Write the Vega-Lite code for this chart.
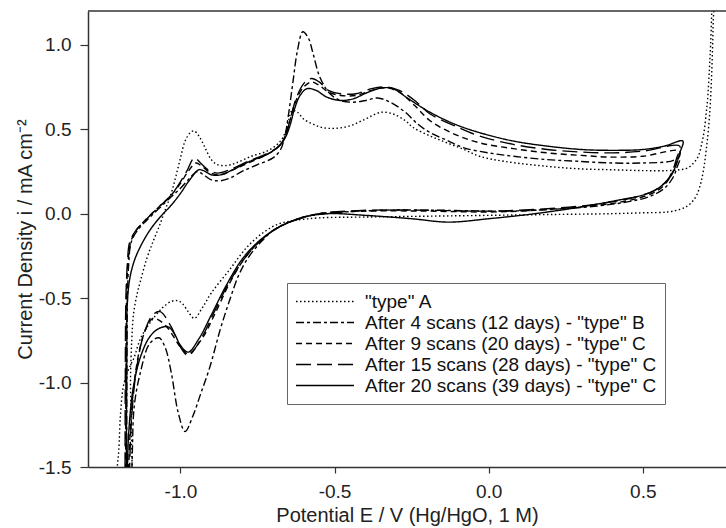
{
"$schema": "https://vega.github.io/schema/vega-lite/v6.json",
"width": 638, "height": 456,
"autosize": {"type": "none"},
"padding": {"left": 88, "top": 11, "right": 0, "bottom": 61},
"background": "white",
"config": {
  "view": {"stroke": null},
  "font": "Liberation Sans",
  "axis": {"domainColor": "#333", "domainWidth": 1.5, "tickColor": "#333", "tickWidth": 1.2, "labelColor": "#222", "titleColor": "#222", "labelFontSize": 19, "titleFontSize": 20, "titleFontWeight": "normal", "labelFont": "Liberation Sans", "titleFont": "Liberation Sans", "grid": false, "labelOverlap": false}
},
"datasets": {
  "names": [
    {"k": "A", "name": "\"type\" A"},
    {"k": "B", "name": "After 4 scans (12 days) - \"type\" B"},
    {"k": "C9", "name": "After 9 scans (20 days) - \"type\" C"},
    {"k": "C15", "name": "After 15 scans (28 days) - \"type\" C"},
    {"k": "C20", "name": "After 20 scans (39 days) - \"type\" C"}
  ],
  "cv": [
    {"s":"A","E":-1.155,"I":-1.75},{"s":"A","E":-1.157,"I":-1.5},{"s":"A","E":-1.16,"I":-1.2},{"s":"A","E":-1.162,"I":-0.98},{"s":"A","E":-1.158,"I":-0.75},{"s":"A","E":-1.152,"I":-0.59},{"s":"A","E":-1.14,"I":-0.47},{"s":"A","E":-1.13,"I":-0.4},{"s":"A","E":-1.11,"I":-0.27},{"s":"A","E":-1.09,"I":-0.17},{"s":"A","E":-1.07,"I":-0.08},{"s":"A","E":-1.05,"I":0.02},{"s":"A","E":-1.03,"I":0.12},{"s":"A","E":-1.015,"I":0.22},{"s":"A","E":-1.0,"I":0.33},{"s":"A","E":-0.985,"I":0.43},{"s":"A","E":-0.968,"I":0.48},{"s":"A","E":-0.956,"I":0.49},{"s":"A","E":-0.94,"I":0.46},{"s":"A","E":-0.92,"I":0.39},{"s":"A","E":-0.9,"I":0.32},{"s":"A","E":-0.88,"I":0.29},{"s":"A","E":-0.85,"I":0.285},{"s":"A","E":-0.82,"I":0.3},{"s":"A","E":-0.77,"I":0.34},{"s":"A","E":-0.72,"I":0.37},{"s":"A","E":-0.68,"I":0.42},{"s":"A","E":-0.66,"I":0.48},{"s":"A","E":-0.648,"I":0.56},{"s":"A","E":-0.638,"I":0.61},{"s":"A","E":-0.62,"I":0.6},{"s":"A","E":-0.6,"I":0.56},{"s":"A","E":-0.57,"I":0.53},{"s":"A","E":-0.54,"I":0.51},{"s":"A","E":-0.5,"I":0.505},{"s":"A","E":-0.45,"I":0.52},{"s":"A","E":-0.4,"I":0.56},{"s":"A","E":-0.35,"I":0.6},{"s":"A","E":-0.31,"I":0.59},{"s":"A","E":-0.27,"I":0.55},{"s":"A","E":-0.245,"I":0.51},{"s":"A","E":-0.19,"I":0.46},{"s":"A","E":-0.136,"I":0.42},{"s":"A","E":-0.08,"I":0.38},{"s":"A","E":-0.03,"I":0.34},{"s":"A","E":0.05,"I":0.31},{"s":"A","E":0.19,"I":0.28},{"s":"A","E":0.3,"I":0.265},{"s":"A","E":0.4,"I":0.26},{"s":"A","E":0.5,"I":0.255},{"s":"A","E":0.58,"I":0.255},{"s":"A","E":0.62,"I":0.26},{"s":"A","E":0.645,"I":0.27},{"s":"A","E":0.665,"I":0.3},{"s":"A","E":0.68,"I":0.34},{"s":"A","E":0.692,"I":0.42},{"s":"A","E":0.7,"I":0.5},{"s":"A","E":0.706,"I":0.6},{"s":"A","E":0.71,"I":0.67},{"s":"A","E":0.716,"I":0.85},{"s":"A","E":0.72,"I":1.0},{"s":"A","E":0.724,"I":1.2},{"s":"A","E":0.727,"I":1.35},
    {"s":"A","E":0.73,"I":1.35},{"s":"A","E":0.728,"I":1.1},{"s":"A","E":0.724,"I":0.85},{"s":"A","E":0.719,"I":0.65},{"s":"A","E":0.713,"I":0.5},{"s":"A","E":0.706,"I":0.38},{"s":"A","E":0.698,"I":0.27},{"s":"A","E":0.688,"I":0.18},{"s":"A","E":0.675,"I":0.11},{"s":"A","E":0.66,"I":0.07},{"s":"A","E":0.64,"I":0.04},{"s":"A","E":0.62,"I":0.025},{"s":"A","E":0.58,"I":0.01},{"s":"A","E":0.5,"I":0.005},{"s":"A","E":0.4,"I":0.0},{"s":"A","E":0.2,"I":-0.005},{"s":"A","E":0.0,"I":-0.01},{"s":"A","E":-0.2,"I":-0.015},{"s":"A","E":-0.4,"I":-0.02},{"s":"A","E":-0.55,"I":-0.025},{"s":"A","E":-0.63,"I":-0.04},{"s":"A","E":-0.68,"I":-0.06},{"s":"A","E":-0.73,"I":-0.11},{"s":"A","E":-0.785,"I":-0.2},{"s":"A","E":-0.84,"I":-0.33},{"s":"A","E":-0.9,"I":-0.47},{"s":"A","E":-0.93,"I":-0.56},{"s":"A","E":-0.955,"I":-0.62},{"s":"A","E":-0.975,"I":-0.58},{"s":"A","E":-0.995,"I":-0.53},{"s":"A","E":-1.01,"I":-0.515},{"s":"A","E":-1.03,"I":-0.52},{"s":"A","E":-1.06,"I":-0.56},{"s":"A","E":-1.1,"I":-0.65},{"s":"A","E":-1.13,"I":-0.74},{"s":"A","E":-1.15,"I":-0.85},{"s":"A","E":-1.17,"I":-0.93},{"s":"A","E":-1.185,"I":-1.02},{"s":"A","E":-1.195,"I":-1.2},{"s":"A","E":-1.2,"I":-1.4},{"s":"A","E":-1.205,"I":-1.5},{"s":"A","E":-1.21,"I":-1.75},

    {"s":"B","E":-1.175,"I":-1.75},{"s":"B","E":-1.174,"I":-1.0},{"s":"B","E":-1.172,"I":-0.5},{"s":"B","E":-1.168,"I":-0.3},{"s":"B","E":-1.16,"I":-0.17},{"s":"B","E":-1.14,"I":-0.1},{"s":"B","E":-1.11,"I":-0.04},{"s":"B","E":-1.07,"I":0.03},{"s":"B","E":-1.03,"I":0.1},{"s":"B","E":-1.0,"I":0.15},{"s":"B","E":-0.97,"I":0.21},{"s":"B","E":-0.945,"I":0.25},{"s":"B","E":-0.925,"I":0.23},{"s":"B","E":-0.9,"I":0.2},{"s":"B","E":-0.87,"I":0.195},{"s":"B","E":-0.84,"I":0.21},{"s":"B","E":-0.8,"I":0.25},{"s":"B","E":-0.75,"I":0.29},{"s":"B","E":-0.7,"I":0.33},{"s":"B","E":-0.675,"I":0.38},{"s":"B","E":-0.66,"I":0.47},{"s":"B","E":-0.65,"I":0.58},{"s":"B","E":-0.635,"I":0.78},{"s":"B","E":-0.62,"I":0.97},{"s":"B","E":-0.603,"I":1.077},{"s":"B","E":-0.585,"I":1.04},{"s":"B","E":-0.57,"I":0.95},{"s":"B","E":-0.548,"I":0.81},{"s":"B","E":-0.515,"I":0.71},{"s":"B","E":-0.48,"I":0.67},{"s":"B","E":-0.44,"I":0.66},{"s":"B","E":-0.4,"I":0.67},{"s":"B","E":-0.36,"I":0.685},{"s":"B","E":-0.32,"I":0.66},{"s":"B","E":-0.27,"I":0.6},{"s":"B","E":-0.23,"I":0.53},{"s":"B","E":-0.19,"I":0.48},{"s":"B","E":-0.13,"I":0.43},{"s":"B","E":-0.08,"I":0.39},{"s":"B","E":0.0,"I":0.36},{"s":"B","E":0.08,"I":0.34},{"s":"B","E":0.19,"I":0.32},{"s":"B","E":0.29,"I":0.31},{"s":"B","E":0.4,"I":0.3},{"s":"B","E":0.5,"I":0.3},{"s":"B","E":0.59,"I":0.31},{"s":"B","E":0.62,"I":0.33},
    {"s":"B","E":0.61,"I":0.27},{"s":"B","E":0.6,"I":0.22},{"s":"B","E":0.57,"I":0.15},{"s":"B","E":0.52,"I":0.1},{"s":"B","E":0.45,"I":0.07},{"s":"B","E":0.35,"I":0.045},{"s":"B","E":0.2,"I":0.025},{"s":"B","E":0.05,"I":0.015},{"s":"B","E":-0.15,"I":0.02},{"s":"B","E":-0.35,"I":0.02},{"s":"B","E":-0.5,"I":0.005},{"s":"B","E":-0.6,"I":-0.02},{"s":"B","E":-0.66,"I":-0.06},{"s":"B","E":-0.7,"I":-0.1},{"s":"B","E":-0.74,"I":-0.17},{"s":"B","E":-0.78,"I":-0.26},{"s":"B","E":-0.81,"I":-0.36},{"s":"B","E":-0.84,"I":-0.51},{"s":"B","E":-0.87,"I":-0.68},{"s":"B","E":-0.905,"I":-0.91},{"s":"B","E":-0.935,"I":-1.07},{"s":"B","E":-0.96,"I":-1.2},{"s":"B","E":-0.985,"I":-1.29},{"s":"B","E":-1.007,"I":-1.18},{"s":"B","E":-1.03,"I":-0.94},{"s":"B","E":-1.05,"I":-0.79},{"s":"B","E":-1.07,"I":-0.735},{"s":"B","E":-1.1,"I":-0.77},{"s":"B","E":-1.13,"I":-0.94},{"s":"B","E":-1.15,"I":-1.14},{"s":"B","E":-1.156,"I":-1.4},{"s":"B","E":-1.16,"I":-1.75},

    {"s":"C9","E":-1.178,"I":-1.75},{"s":"C9","E":-1.177,"I":-1.0},{"s":"C9","E":-1.175,"I":-0.5},{"s":"C9","E":-1.17,"I":-0.28},{"s":"C9","E":-1.16,"I":-0.16},{"s":"C9","E":-1.14,"I":-0.09},{"s":"C9","E":-1.11,"I":-0.03},{"s":"C9","E":-1.07,"I":0.04},{"s":"C9","E":-1.03,"I":0.11},{"s":"C9","E":-1.0,"I":0.18},{"s":"C9","E":-0.975,"I":0.25},{"s":"C9","E":-0.95,"I":0.3},{"s":"C9","E":-0.93,"I":0.28},{"s":"C9","E":-0.9,"I":0.24},{"s":"C9","E":-0.87,"I":0.23},{"s":"C9","E":-0.83,"I":0.26},{"s":"C9","E":-0.78,"I":0.3},{"s":"C9","E":-0.72,"I":0.35},{"s":"C9","E":-0.68,"I":0.4},{"s":"C9","E":-0.66,"I":0.46},{"s":"C9","E":-0.645,"I":0.55},{"s":"C9","E":-0.625,"I":0.67},{"s":"C9","E":-0.6,"I":0.75},{"s":"C9","E":-0.575,"I":0.78},{"s":"C9","E":-0.55,"I":0.76},{"s":"C9","E":-0.52,"I":0.72},{"s":"C9","E":-0.48,"I":0.7},{"s":"C9","E":-0.43,"I":0.7},{"s":"C9","E":-0.38,"I":0.73},{"s":"C9","E":-0.335,"I":0.745},{"s":"C9","E":-0.29,"I":0.72},{"s":"C9","E":-0.24,"I":0.64},{"s":"C9","E":-0.19,"I":0.55},{"s":"C9","E":-0.11,"I":0.47},{"s":"C9","E":-0.03,"I":0.42},{"s":"C9","E":0.08,"I":0.385},{"s":"C9","E":0.19,"I":0.36},{"s":"C9","E":0.3,"I":0.345},{"s":"C9","E":0.4,"I":0.335},{"s":"C9","E":0.5,"I":0.34},{"s":"C9","E":0.62,"I":0.37},
    {"s":"C9","E":0.61,"I":0.3},{"s":"C9","E":0.595,"I":0.24},{"s":"C9","E":0.57,"I":0.17},{"s":"C9","E":0.53,"I":0.12},{"s":"C9","E":0.47,"I":0.085},{"s":"C9","E":0.4,"I":0.06},{"s":"C9","E":0.3,"I":0.04},{"s":"C9","E":0.15,"I":0.02},{"s":"C9","E":0.0,"I":0.01},{"s":"C9","E":-0.2,"I":0.015},{"s":"C9","E":-0.4,"I":0.015},{"s":"C9","E":-0.55,"I":0.0},{"s":"C9","E":-0.63,"I":-0.04},{"s":"C9","E":-0.69,"I":-0.09},{"s":"C9","E":-0.74,"I":-0.16},{"s":"C9","E":-0.79,"I":-0.26},{"s":"C9","E":-0.84,"I":-0.41},{"s":"C9","E":-0.89,"I":-0.6},{"s":"C9","E":-0.93,"I":-0.74},{"s":"C9","E":-0.975,"I":-0.83},{"s":"C9","E":-1.0,"I":-0.79},{"s":"C9","E":-1.04,"I":-0.68},{"s":"C9","E":-1.07,"I":-0.63},{"s":"C9","E":-1.09,"I":-0.62},{"s":"C9","E":-1.12,"I":-0.72},{"s":"C9","E":-1.145,"I":-0.93},{"s":"C9","E":-1.16,"I":-1.2},{"s":"C9","E":-1.168,"I":-1.5},{"s":"C9","E":-1.172,"I":-1.75},

    {"s":"C15","E":-1.18,"I":-1.75},{"s":"C15","E":-1.179,"I":-1.0},{"s":"C15","E":-1.177,"I":-0.5},{"s":"C15","E":-1.172,"I":-0.29},{"s":"C15","E":-1.165,"I":-0.17},{"s":"C15","E":-1.145,"I":-0.1},{"s":"C15","E":-1.12,"I":-0.05},{"s":"C15","E":-1.076,"I":0.03},{"s":"C15","E":-1.04,"I":0.09},{"s":"C15","E":-1.01,"I":0.16},{"s":"C15","E":-0.98,"I":0.25},{"s":"C15","E":-0.955,"I":0.33},{"s":"C15","E":-0.935,"I":0.3},{"s":"C15","E":-0.91,"I":0.26},{"s":"C15","E":-0.88,"I":0.24},{"s":"C15","E":-0.84,"I":0.26},{"s":"C15","E":-0.78,"I":0.31},{"s":"C15","E":-0.72,"I":0.355},{"s":"C15","E":-0.68,"I":0.4},{"s":"C15","E":-0.66,"I":0.46},{"s":"C15","E":-0.645,"I":0.55},{"s":"C15","E":-0.625,"I":0.68},{"s":"C15","E":-0.6,"I":0.77},{"s":"C15","E":-0.575,"I":0.8},{"s":"C15","E":-0.55,"I":0.78},{"s":"C15","E":-0.52,"I":0.73},{"s":"C15","E":-0.48,"I":0.71},{"s":"C15","E":-0.43,"I":0.71},{"s":"C15","E":-0.38,"I":0.74},{"s":"C15","E":-0.33,"I":0.75},{"s":"C15","E":-0.29,"I":0.73},{"s":"C15","E":-0.24,"I":0.67},{"s":"C15","E":-0.19,"I":0.59},{"s":"C15","E":-0.11,"I":0.52},{"s":"C15","E":-0.03,"I":0.46},{"s":"C15","E":0.08,"I":0.41},{"s":"C15","E":0.19,"I":0.38},{"s":"C15","E":0.3,"I":0.365},{"s":"C15","E":0.4,"I":0.36},{"s":"C15","E":0.5,"I":0.37},{"s":"C15","E":0.62,"I":0.4},
    {"s":"C15","E":0.61,"I":0.33},{"s":"C15","E":0.6,"I":0.27},{"s":"C15","E":0.58,"I":0.2},{"s":"C15","E":0.54,"I":0.14},{"s":"C15","E":0.48,"I":0.1},{"s":"C15","E":0.4,"I":0.07},{"s":"C15","E":0.3,"I":0.045},{"s":"C15","E":0.15,"I":0.025},{"s":"C15","E":0.0,"I":0.015},{"s":"C15","E":-0.2,"I":0.02},{"s":"C15","E":-0.4,"I":0.02},{"s":"C15","E":-0.55,"I":0.0},{"s":"C15","E":-0.63,"I":-0.04},{"s":"C15","E":-0.69,"I":-0.09},{"s":"C15","E":-0.74,"I":-0.16},{"s":"C15","E":-0.79,"I":-0.26},{"s":"C15","E":-0.84,"I":-0.4},{"s":"C15","E":-0.89,"I":-0.58},{"s":"C15","E":-0.93,"I":-0.73},{"s":"C15","E":-0.975,"I":-0.84},{"s":"C15","E":-1.0,"I":-0.79},{"s":"C15","E":-1.03,"I":-0.67},{"s":"C15","E":-1.066,"I":-0.58},{"s":"C15","E":-1.09,"I":-0.6},{"s":"C15","E":-1.12,"I":-0.72},{"s":"C15","E":-1.145,"I":-0.95},{"s":"C15","E":-1.16,"I":-1.25},{"s":"C15","E":-1.165,"I":-1.5},{"s":"C15","E":-1.17,"I":-1.75},

    {"s":"C20","E":-1.176,"I":-1.75},{"s":"C20","E":-1.175,"I":-1.2},{"s":"C20","E":-1.174,"I":-0.8},{"s":"C20","E":-1.173,"I":-0.55},{"s":"C20","E":-1.165,"I":-0.39},{"s":"C20","E":-1.15,"I":-0.28},{"s":"C20","E":-1.13,"I":-0.195},{"s":"C20","E":-1.1,"I":-0.1},{"s":"C20","E":-1.066,"I":-0.02},{"s":"C20","E":-1.03,"I":0.05},{"s":"C20","E":-1.0,"I":0.12},{"s":"C20","E":-0.97,"I":0.2},{"s":"C20","E":-0.94,"I":0.26},{"s":"C20","E":-0.92,"I":0.25},{"s":"C20","E":-0.9,"I":0.23},{"s":"C20","E":-0.87,"I":0.23},{"s":"C20","E":-0.83,"I":0.26},{"s":"C20","E":-0.775,"I":0.31},{"s":"C20","E":-0.72,"I":0.35},{"s":"C20","E":-0.68,"I":0.4},{"s":"C20","E":-0.66,"I":0.45},{"s":"C20","E":-0.645,"I":0.52},{"s":"C20","E":-0.63,"I":0.62},{"s":"C20","E":-0.612,"I":0.7},{"s":"C20","E":-0.59,"I":0.74},{"s":"C20","E":-0.56,"I":0.73},{"s":"C20","E":-0.525,"I":0.69},{"s":"C20","E":-0.48,"I":0.67},{"s":"C20","E":-0.44,"I":0.68},{"s":"C20","E":-0.39,"I":0.72},{"s":"C20","E":-0.345,"I":0.745},{"s":"C20","E":-0.31,"I":0.74},{"s":"C20","E":-0.26,"I":0.68},{"s":"C20","E":-0.19,"I":0.6},{"s":"C20","E":-0.11,"I":0.53},{"s":"C20","E":-0.03,"I":0.48},{"s":"C20","E":0.08,"I":0.43},{"s":"C20","E":0.19,"I":0.4},{"s":"C20","E":0.3,"I":0.38},{"s":"C20","E":0.4,"I":0.375},{"s":"C20","E":0.5,"I":0.38},{"s":"C20","E":0.57,"I":0.4},{"s":"C20","E":0.63,"I":0.43},
    {"s":"C20","E":0.62,"I":0.36},{"s":"C20","E":0.61,"I":0.3},{"s":"C20","E":0.59,"I":0.22},{"s":"C20","E":0.55,"I":0.15},{"s":"C20","E":0.5,"I":0.11},{"s":"C20","E":0.42,"I":0.08},{"s":"C20","E":0.3,"I":0.04},{"s":"C20","E":0.15,"I":0.0},{"s":"C20","E":0.0,"I":-0.03},{"s":"C20","E":-0.13,"I":-0.05},{"s":"C20","E":-0.25,"I":-0.03},{"s":"C20","E":-0.4,"I":-0.01},{"s":"C20","E":-0.52,"I":0.0},{"s":"C20","E":-0.6,"I":-0.02},{"s":"C20","E":-0.66,"I":-0.06},{"s":"C20","E":-0.7,"I":-0.1},{"s":"C20","E":-0.75,"I":-0.17},{"s":"C20","E":-0.8,"I":-0.27},{"s":"C20","E":-0.85,"I":-0.42},{"s":"C20","E":-0.9,"I":-0.6},{"s":"C20","E":-0.94,"I":-0.74},{"s":"C20","E":-0.975,"I":-0.82},{"s":"C20","E":-1.0,"I":-0.78},{"s":"C20","E":-1.02,"I":-0.71},{"s":"C20","E":-1.04,"I":-0.67},{"s":"C20","E":-1.07,"I":-0.68},{"s":"C20","E":-1.1,"I":-0.73},{"s":"C20","E":-1.13,"I":-0.85},{"s":"C20","E":-1.154,"I":-1.04},{"s":"C20","E":-1.168,"I":-1.3},{"s":"C20","E":-1.172,"I":-1.5},{"s":"C20","E":-1.176,"I":-1.75}
  ]
},
"layer": [
  {
    "data": {"name": "cv"},
    "transform": [{"lookup": "s", "from": {"data": {"name": "names"}, "key": "k", "fields": ["name"]}}],
    "mark": {"type": "line", "clip": true, "interpolate": "catmull-rom", "color": "black", "strokeWidth": 1.4},
    "encoding": {
      "x": {"field": "E", "type": "quantitative", "scale": {"domain": [-1.3, 0.77], "nice": false, "zero": false},
            "axis": {"values": [-1, -0.5, 0, 0.5], "title": "Potential E / V (Hg/HgO, 1 M)", "tickSize": 6, "labelPadding": 9, "titlePadding": 4,
                     "labelExpr": "datum.value < 0 ? '-' + format(-datum.value, '.1f') : format(datum.value, '.1f')"}},
      "y": {"field": "I", "type": "quantitative", "scale": {"domain": [-1.5, 1.2], "nice": false, "zero": false},
            "axis": {"values": [-1.5, -1, -0.5, 0, 0.5, 1], "title": "Current Density i / mA cm\u207b\u00b2", "tickSize": 8, "labelPadding": 9, "titlePadding": 3,
                     "labelExpr": "datum.value < 0 ? '-' + format(-datum.value, '.1f') : format(datum.value, '.1f')"}},
      "strokeDash": {"field": "name", "type": "nominal",
        "scale": {"domain": ["\"type\" A", "After 4 scans (12 days) - \"type\" B", "After 9 scans (20 days) - \"type\" C", "After 15 scans (28 days) - \"type\" C", "After 20 scans (39 days) - \"type\" C"],
                  "range": [[1.5, 2.5], [8, 3, 3, 3], [6, 4], [15, 6], [1, 0]]},
        "legend": {"orient": "none", "legendX": 199, "legendY": 272, "title": null, "symbolType": "stroke", "symbolSize": 3364, "symbolStrokeWidth": 1.4, "symbolStrokeColor": "black",
                   "labelFontSize": 19, "labelFont": "Liberation Sans", "labelColor": "#111", "labelLimit": 500, "labelOffset": 10, "padding": 8, "strokeColor": "#666", "fillColor": "white", "clipHeight": 21, "rowPadding": 0}},
      "order": {"value": null}
    }
  },
  {
    "data": {"values": [{}]},
    "mark": {"type": "rule", "color": "#333", "strokeWidth": 1.5},
    "encoding": {"y": {"datum": 1.2, "type": "quantitative"}}
  }
]
}
